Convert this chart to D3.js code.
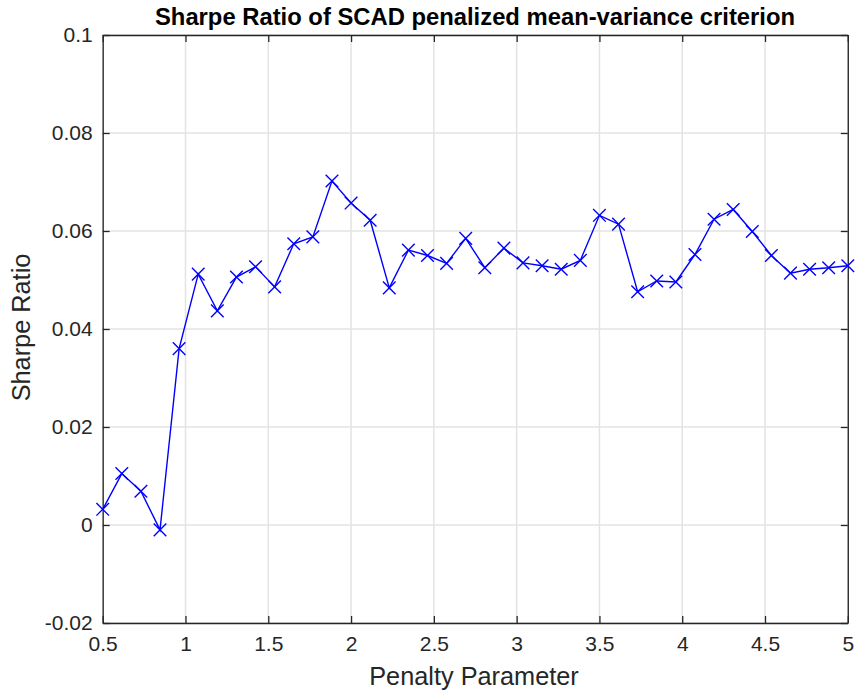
<!DOCTYPE html>
<html><head><meta charset="utf-8">
<script src="https://cdn.jsdelivr.net/npm/d3@7"></script>
<style>body{margin:0;background:#fff}text{font-family:"Liberation Sans",Arial,Helvetica,sans-serif}</style>
</head><body><svg id="c" width="855" height="697"></svg>
<script>
const xStart = 0.5, xEnd = 5, nPoints = 40;
const sharpe = [0.0032,0.0105,0.0069,-0.0010,0.0360,0.0512,0.0437,0.0506,0.0527,0.0486,
  0.0574,0.0588,0.0702,0.0657,0.0622,0.0484,0.0561,0.0550,0.0534,0.0585,
  0.0525,0.0565,0.0535,0.0529,0.0522,0.0540,0.0632,0.0614,0.0476,0.0498,
  0.0496,0.0552,0.0624,0.0644,0.0599,0.0550,0.0514,0.0522,0.0525,0.0529];
const penalty = sharpe.map((d,i)=> xStart + i*(xEnd-xStart)/(nPoints-1));
const xTicks = [0.5,1,1.5,2,2.5,3,3.5,4,4.5,5];
const yTicks = [-0.02,0,0.02,0.04,0.06,0.08,0.1];
const titleText = "Sharpe Ratio of SCAD penalized mean-variance criterion";
const xLabel = "Penalty Parameter", yLabel = "Sharpe Ratio";

const L=102.7, R=847.8, T=35, B=623;
const svg = d3.select("#c");
const x = d3.scaleLinear().domain([0.5,5]).range([L,R]);
const y = d3.scaleLinear().domain([-0.02,0.1]).range([B,T]);
const axCol = "#262626";

// grid
const g = svg.append("g");
g.selectAll(".gx").data(xTicks).join("line").attr("x1",d=>x(d)).attr("x2",d=>x(d)).attr("y1",T).attr("y2",B)
  .attr("stroke","#e3e3e3").attr("stroke-width",1.5);
g.selectAll(".gy").data(yTicks).join("line").attr("y1",d=>y(d)).attr("y2",d=>y(d)).attr("x1",L).attr("x2",R)
  .attr("stroke","#e3e3e3").attr("stroke-width",1.5);

// axes
const fmt = d => String(+d.toFixed(4));
const xb = svg.append("g").attr("transform",`translate(0,${B})`).call(d3.axisBottom(x).tickValues(xTicks).tickSizeInner(-7).tickSizeOuter(0).tickPadding(13).tickFormat(fmt));
const xt = svg.append("g").attr("transform",`translate(0,${T})`).call(d3.axisTop(x).tickValues(xTicks).tickSizeInner(-7).tickSizeOuter(0).tickFormat(""));
const yl = svg.append("g").attr("transform",`translate(${L},0)`).call(d3.axisLeft(y).tickValues(yTicks).tickSizeInner(-7).tickSizeOuter(0).tickPadding(10).tickFormat(fmt));
const yr = svg.append("g").attr("transform",`translate(${R},0)`).call(d3.axisRight(y).tickValues(yTicks).tickSizeInner(-7).tickSizeOuter(0).tickFormat(""));
[xb,xt,yl,yr].forEach(a=>{
  a.select(".domain").attr("stroke",axCol).attr("stroke-width",1.3);
  a.selectAll(".tick line").attr("stroke",axCol).attr("stroke-width",1.3);
  a.selectAll(".tick text").attr("fill",axCol).attr("font-size",21).attr("font-family","Liberation Sans, Arial, sans-serif");
});

// line
svg.append("path").datum(sharpe.map((v,i)=>[penalty[i],v]))
  .attr("d",d3.line().x(d=>x(d[0])).y(d=>y(d[1])))
  .attr("fill","none").attr("stroke","#0000ff").attr("stroke-width",1.4);
const s=6.3;
svg.append("g").selectAll("path").data(sharpe.map((v,i)=>[penalty[i],v])).join("path")
  .attr("d",d=>{const cx=x(d[0]),cy=y(d[1]);return `M${cx-s},${cy-s}L${cx+s},${cy+s}M${cx-s},${cy+s}L${cx+s},${cy-s}`;})
  .attr("stroke","#0000ff").attr("stroke-width",1.4).attr("fill","none");

// labels
svg.append("text").attr("x",475).attr("y",25).attr("text-anchor","middle").attr("font-size",23.8)
  .attr("font-weight","bold").attr("fill","#000").text(titleText);
svg.append("text").attr("x",474).attr("y",685).attr("text-anchor","middle").attr("font-size",25.3)
  .attr("fill",axCol).text(xLabel);
svg.append("text").attr("transform",`translate(29.5,327.5) rotate(-90)`).attr("text-anchor","middle").attr("font-size",25.3)
  .attr("fill",axCol).text(yLabel);
</script></body></html>
